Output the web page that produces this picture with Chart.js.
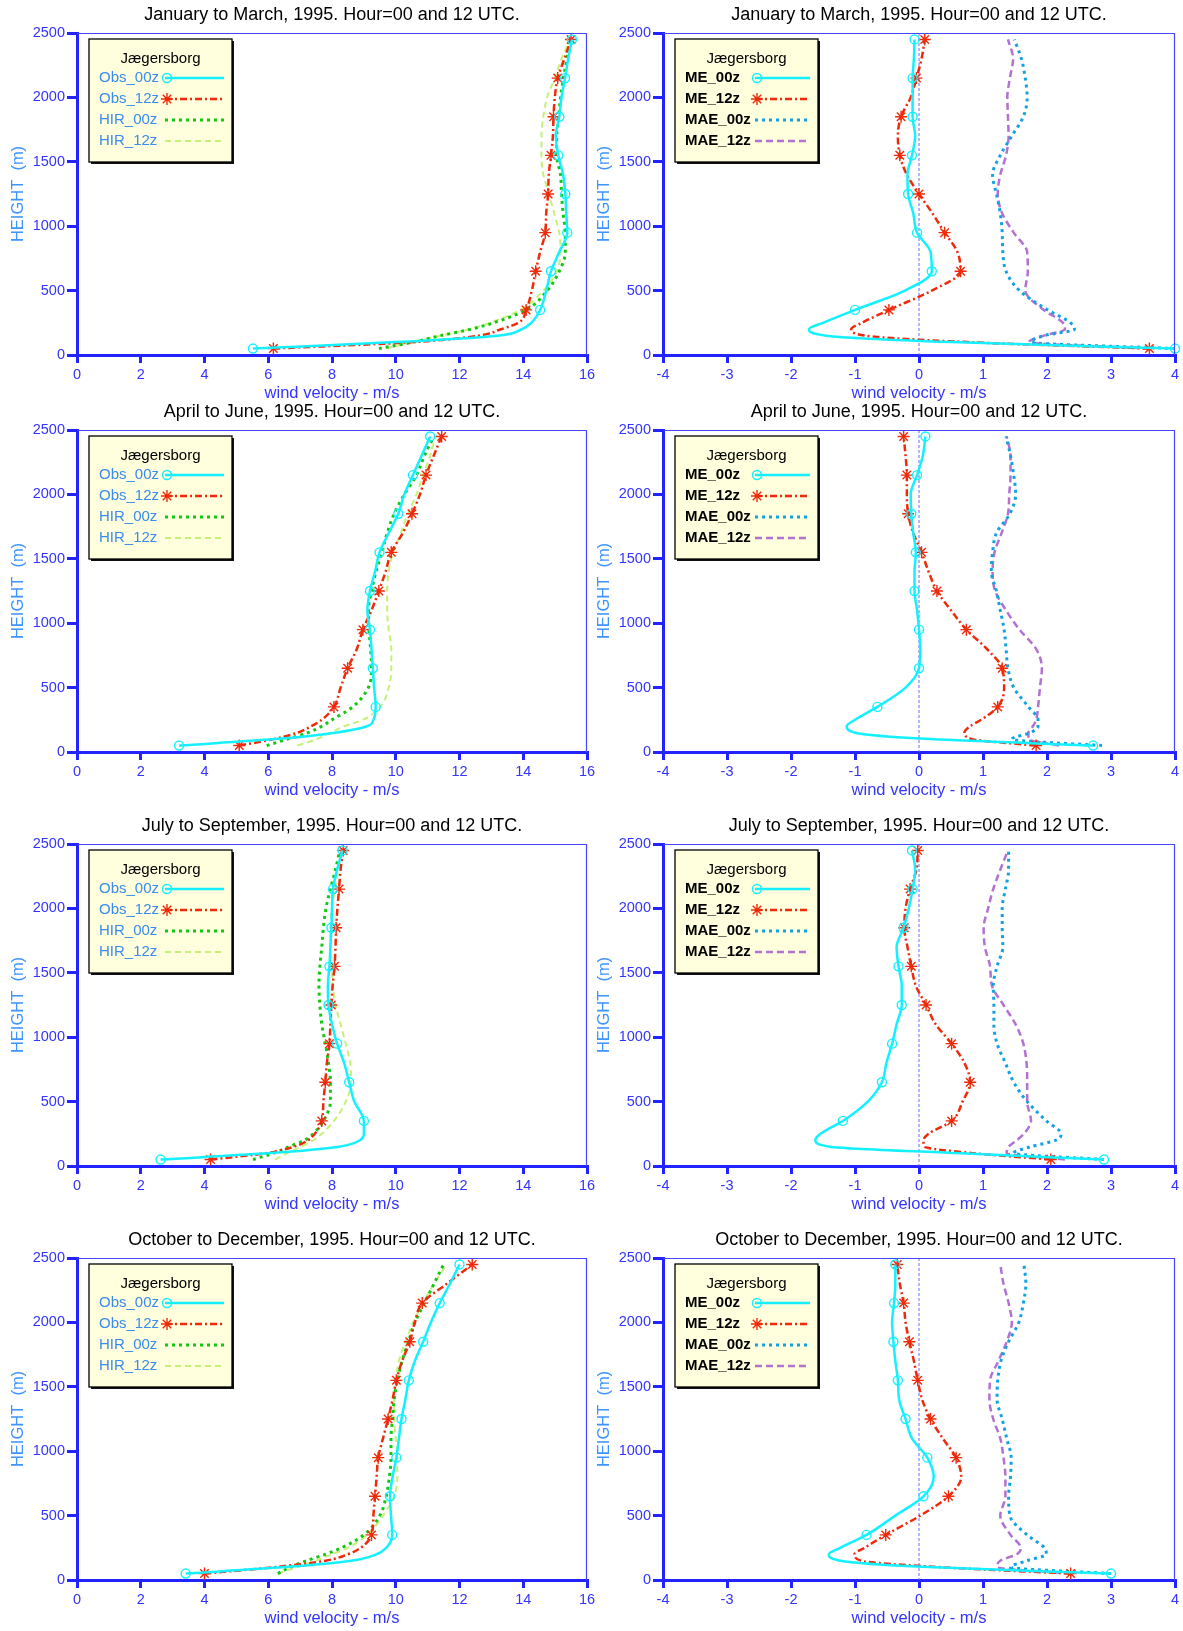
<!DOCTYPE html>
<html>
<head>
<meta charset="utf-8">
<title>Jægersborg wind profiles 1995</title>
<script src="https://cdn.jsdelivr.net/npm/chart.js@4.4.1/dist/chart.umd.min.js"></script>
<style>
  body { margin: 0; background: #fff; width: 1183px; height: 1631px; overflow: hidden; position: relative; }
  canvas { position: absolute; }
</style>
</head>
<body>
<script>
// heights of the profile points (m), markers only every 300 m
const heights = [50, 100, 150, 200, 250, 350, 500, 650, 800, 950, 1100, 1250, 1400, 1550, 1700, 1850, 2000, 2150, 2300, 2450];
const markerHeights = [50, 350, 650, 950, 1250, 1550, 1850, 2150, 2450];

const periods = ['January to March', 'April to June', 'July to September', 'October to December'];
const obsNames = ['Obs_00z', 'Obs_12z', 'HIR_00z', 'HIR_12z'];
const errNames = ['ME_00z', 'ME_12z', 'MAE_00z', 'MAE_12z'];
const speedRange = [0, 16];
const errRange = [-4, 4];
const heightRange = [0, 2500];

/********************* January - March *********************/
const janMarObs00 = [5.52, 10.0, 13.2, 13.95, 14.25, 14.53, 14.72, 14.87, 15.13, 15.38, 15.35, 15.32, 15.25, 15.1, 15.02, 15.13, 15.2, 15.31, 15.41, 15.53];
const janMarObs12 = [6.16, 10.55, 12.6, 13.3, 13.85, 14.09, 14.27, 14.39, 14.53, 14.69, 14.72, 14.78, 14.8, 14.87, 14.93, 14.95, 14.99, 15.08, 15.29, 15.5];
const janMarHir00 = [9.47, 10.55, 11.4, 12.35, 13.07, 14.09, 14.75, 15.13, 15.32, 15.32, 15.25, 15.2, 15.17, 15.05, 15.05, 15.11, 15.17, 15.26, 15.37, 15.47];
const janMarHir12 = [9.71, 10.5, 11.4, 12.3, 12.95, 13.91, 14.63, 15.05, 15.17, 15.13, 14.97, 14.81, 14.63, 14.57, 14.57, 14.63, 14.75, 14.99, 15.2, 15.47];
const janMarMe00 = [4.0, 0.5, -1.45, -1.72, -1.5, -1.0, -0.22, 0.2, 0.18, -0.03, -0.09, -0.17, -0.18, -0.11, -0.06, -0.1, -0.1, -0.1, -0.08, -0.07];
const janMarMe12 = [3.6, 0.77, -0.83, -1.06, -0.89, -0.47, 0.2, 0.65, 0.6, 0.4, 0.21, 0.0, -0.19, -0.3, -0.33, -0.28, -0.13, -0.04, 0.04, 0.09];
const janMarMae00 = [4.0, 1.75, 1.95, 2.43, 2.37, 2.01, 1.57, 1.36, 1.31, 1.3, 1.27, 1.21, 1.15, 1.27, 1.45, 1.63, 1.69, 1.66, 1.6, 1.49];
const janMarMae12 = [3.6, 1.72, 1.95, 2.28, 2.25, 1.95, 1.66, 1.7, 1.69, 1.48, 1.3, 1.23, 1.27, 1.36, 1.4, 1.39, 1.38, 1.42, 1.47, 1.39];

/********************* April - June *********************/
const aprJunObs00 = [3.2, 6.2, 8.1, 9.1, 9.3, 9.37, 9.32, 9.28, 9.24, 9.19, 9.11, 9.19, 9.35, 9.49, 9.78, 10.08, 10.27, 10.54, 10.81, 11.08];
const aprJunObs12 = [5.09, 6.17, 6.92, 7.35, 7.68, 8.06, 8.27, 8.49, 8.78, 8.97, 9.24, 9.47, 9.68, 9.86, 10.22, 10.51, 10.76, 10.95, 11.19, 11.44];
const aprJunHir00 = [5.95, 6.6, 7.25, 7.68, 8.0, 8.65, 9.14, 9.24, 9.21, 9.16, 9.14, 9.24, 9.38, 9.57, 9.73, 9.95, 10.27, 10.65, 10.9, 11.19];
const aprJunHir12 = [6.92, 7.52, 7.95, 8.38, 8.97, 9.51, 9.78, 9.86, 9.86, 9.78, 9.73, 9.73, 9.78, 9.92, 10.16, 10.38, 10.65, 10.86, 11.08, 11.24];
const aprJunMe00 = [2.72, 0.18, -1.0, -1.13, -1.0, -0.65, -0.21, 0.0, 0.02, 0.0, -0.03, -0.07, -0.07, -0.05, -0.09, -0.12, -0.13, -0.03, 0.06, 0.1];
const aprJunMe12 = [1.83, 0.83, 0.71, 0.8, 0.97, 1.23, 1.33, 1.3, 1.06, 0.74, 0.5, 0.28, 0.15, 0.04, -0.09, -0.17, -0.19, -0.19, -0.21, -0.24];
const aprJunMae00 = [2.86, 1.45, 1.74, 1.86, 1.86, 1.71, 1.48, 1.39, 1.36, 1.33, 1.27, 1.21, 1.13, 1.15, 1.21, 1.42, 1.51, 1.48, 1.43, 1.36];
const aprJunMae12 = [2.19, 1.71, 1.71, 1.78, 1.83, 1.86, 1.89, 1.92, 1.83, 1.57, 1.36, 1.19, 1.15, 1.18, 1.29, 1.39, 1.41, 1.43, 1.43, 1.37];

/********************* July - September *********************/
const julSepObs00 = [2.62, 6.06, 8.22, 8.87, 9.0, 9.0, 8.7, 8.54, 8.38, 8.16, 8.0, 7.89, 7.87, 7.92, 7.95, 7.98, 8.0, 8.03, 8.16, 8.33];
const julSepObs12 = [4.19, 5.95, 6.81, 7.25, 7.46, 7.68, 7.73, 7.79, 7.84, 7.92, 7.95, 7.98, 8.02, 8.08, 8.11, 8.13, 8.17, 8.22, 8.27, 8.35];
const julSepHir00 = [5.52, 6.17, 6.65, 7.14, 7.41, 7.73, 7.95, 7.95, 7.89, 7.79, 7.68, 7.62, 7.59, 7.62, 7.68, 7.73, 7.81, 7.95, 8.11, 8.24];
const julSepHir12 = [6.22, 6.6, 7.03, 7.41, 7.68, 8.06, 8.43, 8.6, 8.57, 8.43, 8.27, 8.11, 8.03, 7.98, 7.95, 7.95, 8.0, 8.09, 8.2, 8.3];
const julSepMe00 = [2.89, 0.58, -1.39, -1.62, -1.54, -1.19, -0.8, -0.58, -0.51, -0.42, -0.35, -0.27, -0.27, -0.32, -0.35, -0.24, -0.16, -0.1, -0.06, -0.11];
const julSepMe12 = [2.06, 0.84, 0.09, 0.07, 0.15, 0.51, 0.68, 0.8, 0.71, 0.51, 0.26, 0.11, -0.05, -0.12, -0.18, -0.23, -0.21, -0.14, -0.04, -0.02];
const julSepMae00 = [2.89, 1.48, 1.75, 2.14, 2.22, 1.99, 1.69, 1.48, 1.35, 1.22, 1.17, 1.17, 1.16, 1.22, 1.31, 1.3, 1.3, 1.35, 1.4, 1.4];
const julSepMae12 = [2.28, 1.37, 1.4, 1.53, 1.64, 1.75, 1.69, 1.69, 1.68, 1.63, 1.51, 1.32, 1.14, 1.11, 1.03, 1.01, 1.08, 1.16, 1.27, 1.39];

/********************* October - December *********************/
const octDecObs00 = [3.41, 6.5, 8.6, 9.4, 9.7, 9.89, 9.85, 9.82, 9.9, 10.02, 10.1, 10.18, 10.3, 10.41, 10.6, 10.86, 11.1, 11.38, 11.7, 12.0];
const octDecObs12 = [4.0, 6.2, 7.8, 8.5, 8.9, 9.24, 9.3, 9.35, 9.4, 9.45, 9.6, 9.76, 9.9, 10.02, 10.2, 10.44, 10.6, 10.83, 11.6, 12.4];
const octDecHir00 = [6.3, 6.7, 7.2, 7.8, 8.3, 9.0, 9.5, 9.7, 9.8, 9.85, 9.85, 9.9, 9.95, 10.05, 10.2, 10.4, 10.6, 10.9, 11.2, 11.5];
const octDecHir12 = [6.3, 6.9, 7.5, 8.0, 8.5, 9.1, 9.6, 9.95, 10.05, 10.05, 10.0, 9.95, 9.95, 10.0, 10.1, 10.3, 10.55, 10.85, 11.2, 11.6];
const octDecMe00 = [3.0, 0.15, -1.23, -1.41, -1.23, -0.82, -0.37, 0.07, 0.23, 0.13, -0.11, -0.21, -0.31, -0.33, -0.37, -0.4, -0.42, -0.39, -0.37, -0.37];
const octDecMe12 = [2.37, 0.31, -0.91, -1.01, -0.85, -0.52, 0.02, 0.46, 0.66, 0.58, 0.37, 0.18, 0.05, -0.02, -0.08, -0.15, -0.21, -0.24, -0.3, -0.34];
const octDecMae00 = [3.0, 1.43, 1.69, 1.99, 1.96, 1.69, 1.42, 1.4, 1.43, 1.44, 1.37, 1.3, 1.22, 1.23, 1.28, 1.4, 1.56, 1.63, 1.67, 1.64];
const octDecMae12 = [2.37, 1.22, 1.27, 1.53, 1.59, 1.43, 1.27, 1.35, 1.35, 1.32, 1.27, 1.16, 1.1, 1.11, 1.24, 1.37, 1.45, 1.4, 1.32, 1.27];

const speedSeries = [
  [janMarObs00, janMarObs12, janMarHir00, janMarHir12],
  [aprJunObs00, aprJunObs12, aprJunHir00, aprJunHir12],
  [julSepObs00, julSepObs12, julSepHir00, julSepHir12],
  [octDecObs00, octDecObs12, octDecHir00, octDecHir12]
];
const errSeries = [
  [janMarMe00, janMarMe12, janMarMae00, janMarMae12],
  [aprJunMe00, aprJunMe12, aprJunMae00, aprJunMae12],
  [julSepMe00, julSepMe12, julSepMae00, julSepMae12],
  [octDecMe00, octDecMe12, octDecMae00, octDecMae12]
];

/********************* styles *********************/
const FONT = "'Liberation Sans', Arial, Helvetica, sans-serif";
const axisBlue = '#2323ff';
const tickBlue = '#3434ff';
const heightBlue = '#3f95ff';

const speedLooks = [
  { color: '#14f0ff', dash: [], width: 2.5, marker: 'circle' },
  { color: '#ee2a0a', dash: [7, 3, 2, 3], width: 2.5, marker: 'star' },
  { color: '#12c812', dash: [3, 4], width: 3, marker: null },
  { color: '#c6f176', dash: [6, 4], width: 2, marker: null }
];
const errLooks = [
  speedLooks[0],
  speedLooks[1],
  { color: '#12a2e2', dash: [3, 4], width: 3, marker: null },
  { color: '#b272d2', dash: [7, 4], width: 2.5, marker: null }
];

const plotTops = [33, 430, 844, 1258];

Chart.defaults.font.family = FONT;

// thin top/right frame plus the dotted zero line of the error panels
const framePlugin = {
  id: 'frame',
  beforeDatasetsDraw(chart, args, opts) {
    if (!opts.zeroLine) return;
    const a = chart.chartArea;
    const x0 = chart.scales.x.getPixelForValue(0);
    const c = chart.ctx;
    c.save();
    c.strokeStyle = '#6b6bff';
    c.lineWidth = 1;
    c.setLineDash([3, 2]);
    c.beginPath();
    c.moveTo(x0, a.top);
    c.lineTo(x0, a.bottom);
    c.stroke();
    c.restore();
  },
  afterDraw(chart) {
    const a = chart.chartArea;
    const c = chart.ctx;
    c.save();
    c.strokeStyle = '#4646ff';
    c.lineWidth = 1.2;
    c.beginPath();
    c.moveTo(a.left, a.top + 0.5);
    c.lineTo(a.right - 0.5, a.top + 0.5);
    c.lineTo(a.right - 0.5, a.bottom);
    c.stroke();
    c.restore();
  }
};

function drawMarker(c, style, x, y, color) {
  c.save();
  c.setLineDash([]);
  c.strokeStyle = color;
  c.lineWidth = 1.4;
  c.beginPath();
  if (style === 'circle') {
    c.arc(x, y, 4.5, 0, Math.PI * 2);
  } else {
    const r = 6, d = r * Math.SQRT1_2;
    c.moveTo(x - r, y); c.lineTo(x + r, y);
    c.moveTo(x, y - r); c.lineTo(x, y + r);
    c.moveTo(x - d, y - d); c.lineTo(x + d, y + d);
    c.moveTo(x - d, y + d); c.lineTo(x + d, y - d);
  }
  c.stroke();
  c.restore();
}

// boxed legend "Jægersborg"
const boxPlugin = {
  id: 'jbox',
  afterDatasetsDraw(chart, args, opts) {
    const a = chart.chartArea;
    const c = chart.ctx;
    const x = a.left + 12, y = a.top + 6, w = 143, h = 123;
    c.save();
    c.fillStyle = '#111';
    c.fillRect(x + 2, y + 2, w, h);
    c.fillStyle = '#fffedd';
    c.fillRect(x, y, w, h);
    c.strokeStyle = '#000';
    c.lineWidth = 1.3;
    c.strokeRect(x, y, w, h);

    c.fillStyle = '#000';
    c.font = '15px ' + FONT;
    c.textAlign = 'center';
    c.textBaseline = 'middle';
    c.fillText('Jægersborg', x + w / 2, y + 20);

    chart.data.datasets.forEach((ds, k) => {
      const ly = y + 39 + k * 21;
      c.textAlign = 'left';
      c.fillStyle = opts.labelColor;
      c.font = (opts.bold ? 'bold ' : '') + '15px ' + FONT;
      c.fillText(ds.label, x + 10, ly);
      const x1 = x + opts.lineStart, x2 = x + 135;
      c.strokeStyle = ds.borderColor;
      c.lineWidth = ds.borderWidth;
      c.setLineDash(ds.borderDash);
      c.beginPath();
      c.moveTo(x1, ly);
      c.lineTo(x2, ly);
      c.stroke();
      if (ds.marker) drawMarker(c, ds.pointStyle, x1 + 2, ly, ds.borderColor);
    });
    c.restore();
  }
};

function makePanel(row, col) {
  const isErr = col === 1;
  const series = isErr ? errSeries[row] : speedSeries[row];
  const names = isErr ? errNames : obsNames;
  const looks = isErr ? errLooks : speedLooks;
  const range = isErr ? errRange : speedRange;

  const cv = document.createElement('canvas');
  const left = isErr ? 586 : 0;
  const width = isErr ? 597 : 600;
  cv.width = width;
  cv.height = 405;
  cv.style.left = left + 'px';
  cv.style.top = (plotTops[row] - 33) + 'px';
  document.body.appendChild(cv);

  const datasets = series.map((vals, k) => ({
    label: names[k],
    data: heights.map((hgt, i) => ({ x: vals[i], y: hgt })),
    borderColor: looks[k].color,
    borderWidth: looks[k].width,
    borderDash: looks[k].dash,
    cubicInterpolationMode: 'monotone',
    fill: false,
    clip: false,
    marker: !!looks[k].marker,
    pointStyle: looks[k].marker || 'circle',
    pointRadius: ctx => (looks[k].marker && markerHeights.includes(heights[ctx.dataIndex])) ? (looks[k].marker === 'star' ? 6 : 4.5) : 0,
    pointBorderColor: looks[k].color,
    pointBackgroundColor: 'rgba(0,0,0,0)',
    pointBorderWidth: 1.4
  }));

  new Chart(cv, {
    type: 'line',
    data: { datasets: datasets },
    plugins: [framePlugin, boxPlugin],
    options: {
      responsive: false,
      animation: false,
      indexAxis: 'y',
      layout: { padding: { left: 0, right: isErr ? 8 : 13, top: 0, bottom: 0 } },
      plugins: {
        legend: { display: false },
        tooltip: { enabled: false },
        title: {
          display: true,
          fullSize: false,
          text: periods[row] + ', 1995. Hour=00 and 12 UTC.',
          color: '#000',
          font: { size: 18, weight: 'normal' },
          padding: { top: 4, bottom: 7.4 }
        },
        frame: { zeroLine: isErr },
        jbox: { labelColor: isErr ? '#000' : '#3a8cee', bold: isErr, lineStart: isErr ? 80 : 76 }
      },
      scales: {
        x: {
          type: 'linear',
          min: range[0],
          max: range[1],
          ticks: { stepSize: isErr ? 1 : 2, color: tickBlue, font: { size: 14.5 }, padding: 3, callback: v => String(v) },
          grid: { drawOnChartArea: false, drawTicks: true, tickLength: 8, lineWidth: 3, color: axisBlue },
          border: { display: true, width: 3, color: axisBlue },
          title: { display: true, text: 'wind velocity - m/s', color: tickBlue, font: { size: 16.5 }, padding: { top: 0, bottom: 2 } },
          afterFit: s => { s.height = 50; s.paddingLeft = 0; s.paddingRight = 0; }
        },
        y: {
          type: 'linear',
          min: heightRange[0],
          max: heightRange[1],
          ticks: { stepSize: 500, color: tickBlue, font: { size: 14.5 }, padding: 2, callback: v => String(v) },
          grid: { drawOnChartArea: false, drawTicks: true, tickLength: 10, lineWidth: 3, color: axisBlue },
          border: { display: true, width: 3, color: axisBlue },
          title: { display: true, text: 'HEIGHT  (m)', color: heightBlue, font: { size: 16.5 }, padding: { top: 9, bottom: 0 } },
          afterFit: s => { s.width = 77; s.paddingTop = 0; s.paddingBottom = 0; }
        }
      }
    }
  });
}

for (let r = 0; r < 4; r++) {
  makePanel(r, 0);
  makePanel(r, 1);
}
</script>
</body>
</html>
